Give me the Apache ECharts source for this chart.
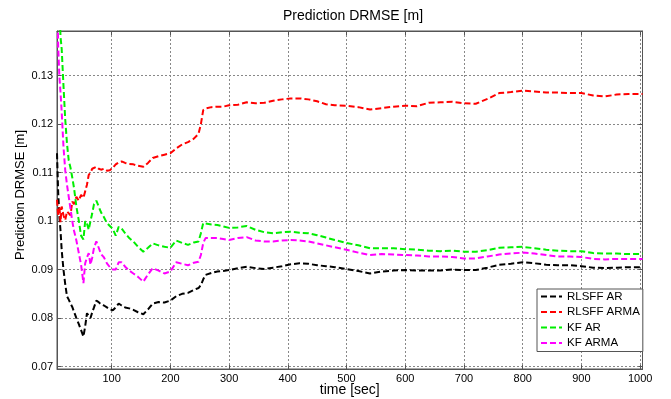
<!DOCTYPE html>
<html>
<head>
<meta charset="utf-8">
<script src="https://cdn.jsdelivr.net/npm/echarts@6/dist/echarts.min.js"></script>
<style>
html,body{margin:0;padding:0;background:#fff;}
#chart{width:671px;height:399px;}
</style>
</head>
<body>
<div id="chart"></div>
<script>
// time [sec]
var time = [7,9,11,13,15,18,21,24,27,30,
  33,36,40,44,48,52,55,58,61,64,
  67,70,74,78,82,87,92,97,102,107,
  112,117,123,130,137,145,154,162,170,180,
  190,200,210,220,230,240,248,252,256,260,
  270,280,290,300,315,330,345,360,375,390,
  405,420,435,450,465,480,500,520,540,560,
  580,600,620,640,660,680,700,720,740,760,
  780,800,820,840,860,880,900,920,940,960,
  980,1000,1004];

var rlsffAR = [.114,.106,.101,.098,.094,.090,.087,.0845,.0838,.0830,
  .0823,.0826,.0800,.0788,.0775,.0762,.0783,.0810,.0805,.0800,
  .0812,.0822,.0836,.0833,.0828,.0826,.0822,.0818,.0816,.0822,
  .0830,.0826,.0822,.0820,.0817,.0812,.0808,.0818,.0830,.0833,
  .0832,.0836,.0845,.0850,.0852,.0858,.0862,.0868,.0880,.0889,
  .0893,.0896,.0897,.0899,.0903,.0906,.0903,.0901,.0904,.0907,
  .0911,.0913,.0912,.0909,.0907,.0905,.0901,.0897,.0892,.0896,
  .0898,.0899,.0898,.0898,.0898,.0900,.0899,.0899,.0904,.0910,
  .0912,.0915,.0913,.0910,.0909,.0909,.0907,.0904,.0903,.0904,
  .0905,.0905,.0906];

var rlsffARMA = [.1044,.1010,.1030,.0998,.1030,.1012,.1002,.1020,.1023,.1012,
  .1040,.1035,.1050,.1042,.1054,.1048,.1050,.1075,.1095,.1100,
  .1108,.1110,.1112,.1108,.1106,.1108,.1104,.1105,.1110,.1117,
  .1121,.1123,.1120,.1118,.1117,.1114,.1112,.1120,.1130,.1134,
  .1137,.1140,.1150,.1158,.1163,.1170,.1180,.1200,.1229,.1232,
  .1235,.1236,.1236,.1239,.1240,.1245,.1243,.1244,.1248,.1251,
  .1253,.1253,.1251,.1247,.1241,.1239,.1238,.1235,.1230,.1233,
  .1236,.1238,.1237,.1244,.1245,.1246,.1243,.1242,.1252,.1264,
  .1266,.1269,.1267,.1265,.1265,.1264,.1264,.1259,.1257,.1261,
  .1262,.1262,.1262];

var kfAR = [.160,.152,.145,.138,.1355,.1280,.1210,.1160,.1125,.1110,
  .1090,.1068,.1030,.1002,.0970,.0962,.1000,.0995,.0982,.1000,
  .1016,.1035,.1042,.1030,.1018,.1008,.0996,.0990,.0984,.0970,
  .0988,.0985,.0975,.0965,.0958,.0947,.0937,.0945,.0954,.0950,
  .0947,.0945,.0960,.0955,.0951,.0956,.0958,.0975,.0996,.0995,
  .0993,.0992,.0989,.0986,.0987,.0990,.0982,.0977,.0975,.0977,
  .0978,.0976,.0975,.0971,.0966,.0961,.0955,.0950,.0944,.0944,
  .0944,.0942,.0941,.0939,.0938,.0939,.0937,.0937,.0940,.0945,
  .0946,.0947,.0944,.0941,.0939,.0938,.0938,.0934,.0933,.0933,
  .0932,.0932,.0933];

var kfARMA = [.150,.136,.130,.1265,.1225,.1154,.1105,.1075,.1050,.1025,
  .1000,.0980,.0960,.0935,.0910,.0872,.0913,.0925,.0934,.0910,
  .0925,.0945,.0958,.0945,.0932,.0925,.0913,.0905,.0900,.0900,
  .0915,.0915,.0906,.0898,.0892,.0885,.0875,.0890,.0903,.0898,
  .0892,.0896,.0915,.0912,.0909,.0914,.0916,.0930,.0955,.0965,
  .0965,.0965,.0963,.0961,.0965,.0967,.0960,.0958,.0958,.0960,
  .0961,.0960,.0958,.0954,.0950,.0946,.0941,.0935,.0930,.0932,
  .0931,.0930,.0929,.0927,.0927,.0926,.0923,.0923,.0927,.0931,
  .0933,.0935,.0933,.0930,.0927,.0927,.0926,.0922,.0921,.0922,
  .0922,.0922,.0922];

var seriesNames = ['RLSFF AR','RLSFF ARMA','KF AR','KF ARMA'];
var seriesColors = ['#000000','#ff0000','#00ee00','#ff00ff'];
var seriesValues = [rlsffAR, rlsffARMA, kfAR, kfARMA];

var FONT = '"Liberation Sans", Arial, sans-serif';
function pairs(vals){ return vals.map(function(v,i){ return [time[i], v]; }); }

var chart = echarts.init(document.getElementById('chart'), null, {renderer:'canvas'});
var option = {
  animation:false,
  backgroundColor:'#ffffff',
  title:{
    text:'Prediction DRMSE [m]',
    left:278, top:4,
    textStyle:{fontFamily:FONT, fontSize:14, fontWeight:'normal', color:'#000'}
  },
  legend:{
    orient:'vertical',
    left:537, top:289,
    data:seriesNames,
    itemWidth:21, itemHeight:8, itemGap:2.5,
    padding:[1,3,2,3],
    backgroundColor:'#ffffff',
    borderColor:'#555', borderWidth:1, borderRadius:0,
    itemStyle:{color:'rgba(0,0,0,0)', borderWidth:0, opacity:0},
    lineStyle:{type:[6,3], width:2},
    textStyle:{fontFamily:FONT, fontSize:11.5, color:'#000', lineHeight:13}
  },
  grid:{left:57, right:28.5, top:31, bottom:30, show:true, borderColor:'#555', borderWidth:1, backgroundColor:'#fff', outerBoundsMode:'none'},
  xAxis:[{
    type:'value', min:7, max:1004, splitNumber:10,
    name:'time [sec]', nameLocation:'middle', nameGap:14, nameMoveOverlap:false,
    nameTextStyle:{fontFamily:FONT, fontSize:14, color:'#000'},
    axisLine:{show:true, lineStyle:{color:'#555'}},
    axisTick:{show:true, inside:true, length:4, lineStyle:{color:'#555'}},
    axisLabel:{showMinLabel:false, showMaxLabel:false, margin:4, fontFamily:FONT, fontSize:11, color:'#000',
      formatter:function(v){ return String(Math.round(v)); }},
    splitLine:{show:true, lineStyle:{color:'#888', type:[2,2], width:1}}
  },{
    type:'value', min:7, max:1004, splitNumber:10, position:'top',
    axisLine:{show:true, lineStyle:{color:'#555'}},
    axisTick:{show:true, inside:true, length:4, lineStyle:{color:'#555'}},
    axisLabel:{show:false}, splitLine:{show:false}
  }],
  yAxis:[{
    type:'value', min:0.0695, max:0.1392, splitNumber:7,
    name:'Prediction DRMSE [m]', nameLocation:'middle', nameGap:30, nameMoveOverlap:false,
    nameTextStyle:{fontFamily:FONT, fontSize:13, color:'#000', padding:[0,0,0,10]},
    axisLine:{show:true, lineStyle:{color:'#555'}},
    axisTick:{show:true, inside:true, length:4, lineStyle:{color:'#555'}},
    axisLabel:{showMinLabel:false, showMaxLabel:false, margin:4, fontFamily:FONT, fontSize:11, color:'#000',
      formatter:function(v){ return String(Math.round(v*1000)/1000); }},
    splitLine:{show:true, lineStyle:{color:'#888', type:[2,2], width:1}}
  },{
    type:'value', min:0.0695, max:0.1392, splitNumber:7, position:'right',
    axisLine:{show:true, lineStyle:{color:'#555'}},
    axisTick:{show:true, inside:true, length:4, lineStyle:{color:'#555'}},
    axisLabel:{show:false}, splitLine:{show:false}
  }],
  series: seriesNames.map(function(n,i){
    return {
      name:n, type:'line', data:pairs(seriesValues[i]),
      xAxisIndex:0, yAxisIndex:0,
      showSymbol:false, symbol:'none', clip:true,
      color:seriesColors[i],
      lineStyle:{color:seriesColors[i], width:2, type:[6,3]}
    };
  })
};
chart.setOption(option);
</script>
</body>
</html>
